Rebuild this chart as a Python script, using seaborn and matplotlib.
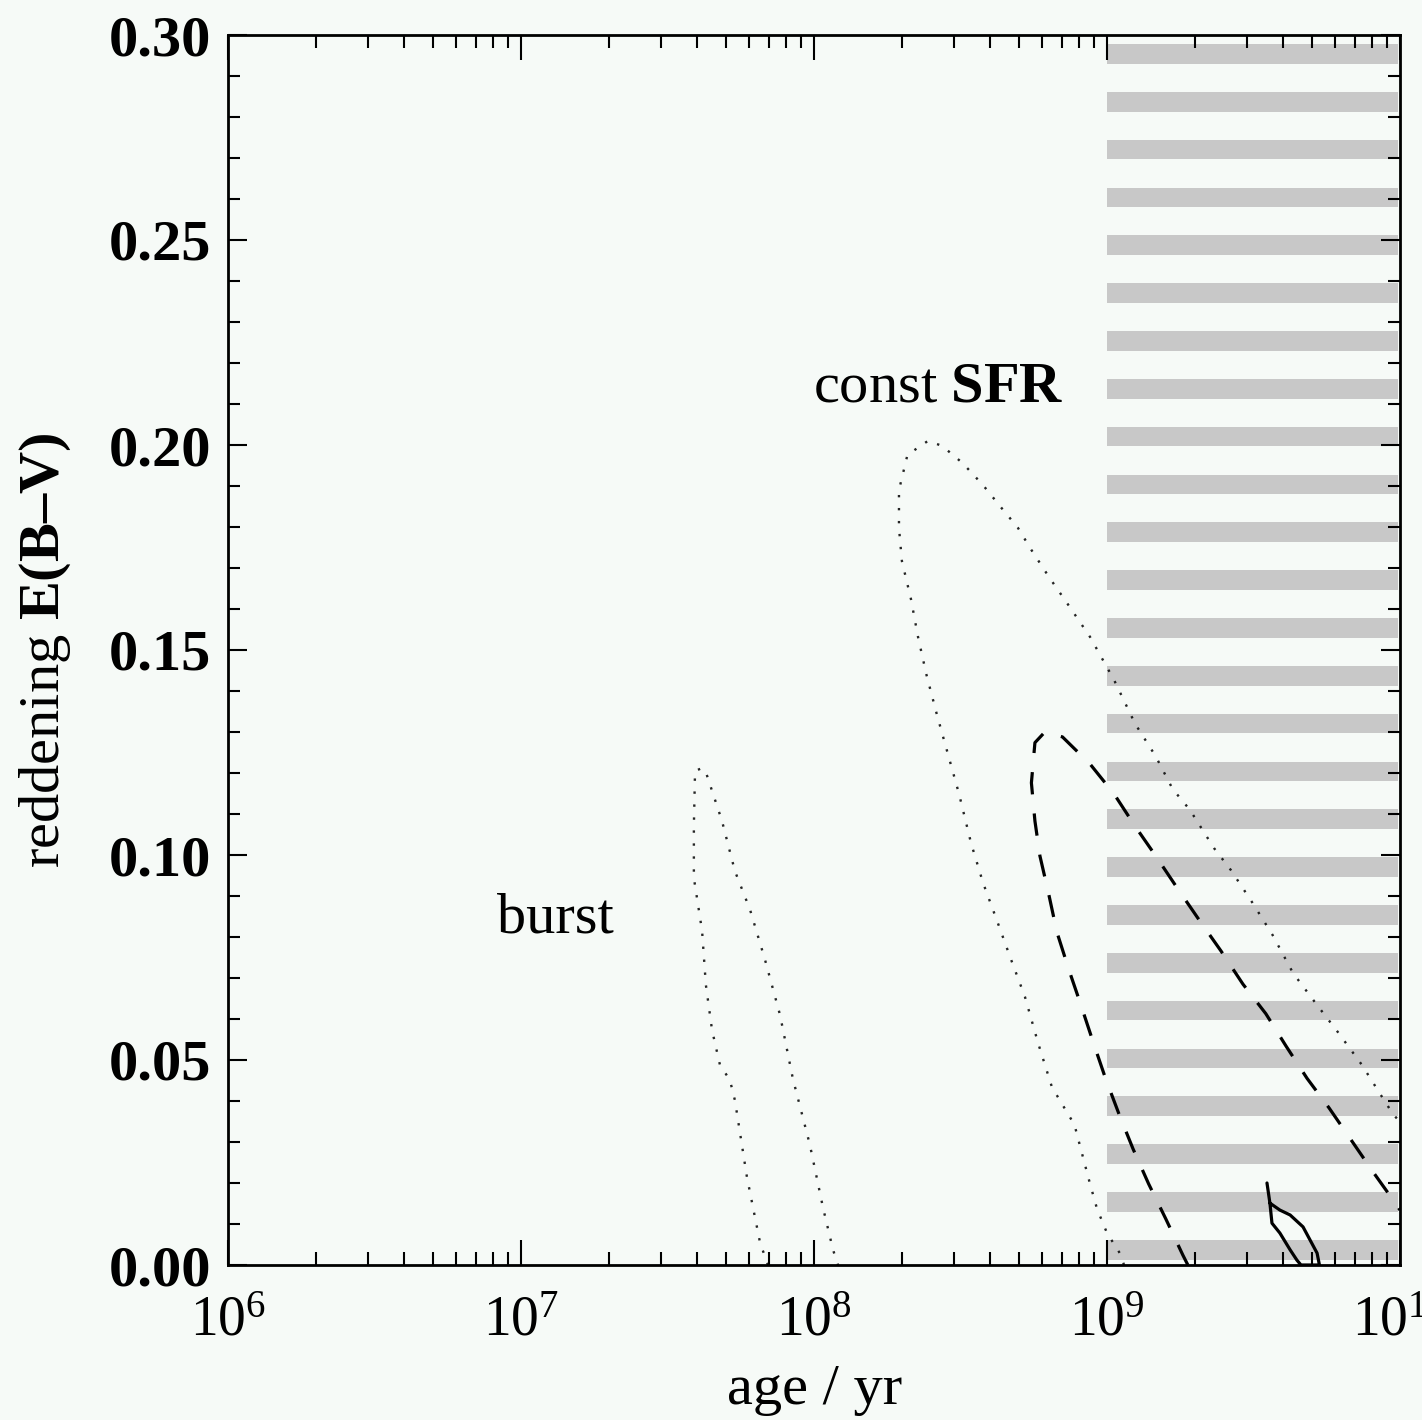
import numpy as np
import pandas as pd
import seaborn as sns
import matplotlib.pyplot as plt
from matplotlib.ticker import MultipleLocator, LogLocator, NullFormatter

# contour outlines: log10(age/yr) and E(B-V)
burst_logage = [7.843, 7.816, 7.771, 7.730, 7.713, 7.679, 7.652, 7.631, 7.618, 7.590, 7.590, 7.594,
                7.618, 7.631, 7.686, 7.730, 7.782, 7.833, 7.884, 7.928, 7.986, 8.031, 8.065, 8.082]
burst_ebv = [0.0, 0.0054, 0.0215, 0.0402, 0.0451, 0.0488, 0.0573, 0.0683, 0.0815, 0.0944, 0.1071, 0.1205,
             0.1212, 0.1202, 0.1083, 0.0961, 0.0866, 0.0744, 0.0610, 0.0454, 0.0293, 0.0139, 0.0037, 0.0]

sfr_logage = [9.058, 9.048, 9.000, 8.966, 8.942, 8.908, 8.889, 8.812, 8.765, 8.720, 8.672, 8.625, 8.577,
              8.536, 8.495, 8.454, 8.420, 8.384, 8.355, 8.331, 8.300, 8.290, 8.290, 8.319, 8.389,
              8.437, 8.507, 8.577, 8.637, 8.696, 8.742, 8.802, 8.866, 8.942, 9.024, 9.096, 9.166,
              9.224, 9.283, 9.365, 9.423, 9.495, 9.565, 9.635, 9.717, 9.788, 9.870, 9.928, 9.976, 10.0]
sfr_ebv = [0.0, 0.0024, 0.0078, 0.0137, 0.0198, 0.0290, 0.0342, 0.0434, 0.0541, 0.0654, 0.0746, 0.0839, 0.0932,
           0.1029, 0.1149, 0.1254, 0.1341, 0.1439, 0.1532, 0.1624, 0.1717, 0.1798, 0.1890, 0.1976, 0.2010,
           0.1998, 0.1956, 0.1902, 0.1849, 0.1798, 0.1744, 0.1678, 0.1612, 0.1532, 0.1427, 0.1320, 0.1241,
           0.1161, 0.1110, 0.1017, 0.0963, 0.0885, 0.0805, 0.0712, 0.0634, 0.0568, 0.0488, 0.0422, 0.0368, 0.0349]

dash_logage = [9.276, 9.259, 9.201, 9.142, 9.089, 9.041, 8.995, 8.954, 8.911, 8.870, 8.829, 8.801, 8.771,
               8.754, 8.742, 8.754, 8.788, 8.848, 8.942, 9.024, 9.096, 9.166, 9.242, 9.317, 9.389,
               9.464, 9.542, 9.611, 9.683, 9.758, 9.836, 9.911, 9.976, 10.0]
dash_ebv = [0.0, 0.0024, 0.0112, 0.0198, 0.0283, 0.0368, 0.0455, 0.0541, 0.0634, 0.0720, 0.0812, 0.0905, 0.0998,
            0.1083, 0.1176, 0.1274, 0.1300, 0.1288, 0.1222, 0.1149, 0.1070, 0.0998, 0.0917, 0.0839, 0.0766,
            0.0685, 0.0613, 0.0534, 0.0455, 0.0383, 0.0302, 0.0224, 0.0159, 0.0134]

solid_logage = [9.546, 9.556, 9.563, 9.590, 9.625, 9.648, 9.662, 9.725, 9.717, 9.693, 9.669, 9.625, 9.590, 9.556]
solid_ebv = [0.0200, 0.0151, 0.0102, 0.0078, 0.0037, 0.0012, 0.0, 0.0, 0.0029, 0.0061, 0.0093, 0.0122, 0.0134, 0.0151]

yticks = [0.00, 0.05, 0.10, 0.15, 0.20, 0.25, 0.30]

bg = '#f6faf7'
sns.set_style("ticks")
plt.rcParams['font.family'] = ['Liberation Serif', 'DejaVu Serif']
plt.rcParams['mathtext.fontset'] = 'custom'
plt.rcParams['mathtext.rm'] = 'Liberation Serif'
plt.rcParams['mathtext.bf'] = 'Liberation Serif:bold'
plt.rcParams['mathtext.default'] = 'regular'
plt.rcParams['text.color'] = 'black'
plt.rcParams['axes.labelcolor'] = 'black'

fig = plt.figure(figsize=(14.22, 14.20), dpi=100, facecolor=bg)
ax = fig.add_axes([228/1422, 1-1265/1420, 1172/1422, 1230/1420])
ax.set_facecolor(bg)

# grey striped region for ages > 1 Gyr
for yc in np.linspace(0.2954, 0.0037, 26):
    ax.axhspan(yc - 0.0024, yc + 0.0024, xmin=0.75, xmax=0.998, color='#c8c8c8', lw=0, zorder=0)

def draw(lx, e, **kw):
    d = pd.DataFrame({'age': 10**np.array(lx), 'ebv': e})
    sns.lineplot(data=d, x='age', y='ebv', sort=False, estimator=None, ax=ax, color='k', **kw)

draw(burst_logage, burst_ebv, lw=1.7, linestyle=(0, (1, 4.5)), alpha=0.85)
draw(sfr_logage, sfr_ebv, lw=1.7, linestyle=(0, (1, 4.5)), alpha=0.85)
draw(dash_logage, dash_ebv, lw=2.3, linestyle=(0, (7, 6)))
draw(solid_logage, solid_ebv, lw=2.3)

ax.set_xscale('log')
ax.set_xlim(1e6, 1e10)
ax.set_ylim(0, 0.30)

ax.text(10**7.116, 0.0846, 'burst', ha='center', va='center', fontsize=42, color='k')
ax.text(10**8.423, 0.2141, r'const $\mathbf{SFR}$', ha='center', va='center', fontsize=42, color='k')

ax.set_yticks(yticks)
ax.set_yticklabels(['%.2f' % v for v in yticks], fontweight='bold')
ax.yaxis.set_minor_locator(MultipleLocator(0.01))
ax.xaxis.set_major_locator(LogLocator(base=10, numticks=10))
ax.xaxis.set_minor_locator(LogLocator(base=10, subs=np.arange(2, 10), numticks=20))
ax.xaxis.set_minor_formatter(NullFormatter())

ax.tick_params(which='both', direction='in', top=True, right=True, colors='k', width=1.5)
ax.tick_params(axis='y', which='major', length=14, labelsize=42, pad=12)
ax.tick_params(axis='y', which='minor', length=8.5)
ax.tick_params(axis='x', which='major', length=18, labelsize=40, pad=22)
ax.tick_params(axis='x', which='minor', length=9.5)
for s in ax.spines.values():
    s.set_linewidth(2.0)
    s.set_color('k')

ax.set_xlabel('age / yr', fontsize=42)
ax.set_ylabel('reddening $\\mathbf{E(B\u2013V)}$', fontsize=42)
ax.xaxis.set_label_coords(0.5009, -0.1016)
ax.xaxis.label.set_va('center')
ax.yaxis.set_label_coords(-0.156, 0.5)
ax.yaxis.label.set_va('center')

fig.savefig('out.png', dpi=100, facecolor=bg)
